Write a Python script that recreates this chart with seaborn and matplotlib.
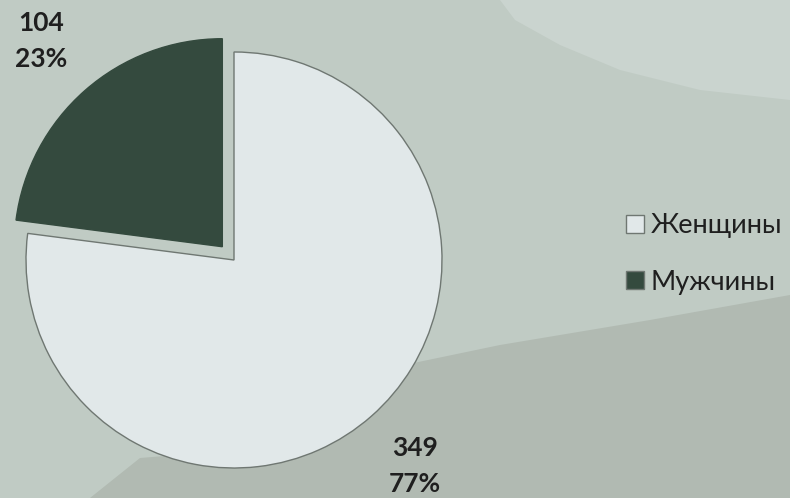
import matplotlib
matplotlib.use("Agg")
import matplotlib.pyplot as plt
import seaborn as sns
import numpy as np
from matplotlib.patches import Polygon

categories = ["Женщины", "Мужчины"]
values = [349, 104]
percents = [77, 23]
colors = ["#e1e8e9", "#344a3e"]

sns.set_theme(style="white")
plt.rcParams['font.family'] = ['Lato', 'DejaVu Sans']

W, H = 790, 498
fig = plt.figure(figsize=(W / 100, H / 100), dpi=100)
fig.patch.set_facecolor("#c0cbc4")

# background texture bands (decorative)
def fpoly(pts, color):
    fig.patches.append(Polygon([(x / W, 1 - y / H) for x, y in pts], closed=True,
                               transform=fig.transFigure, facecolor=color,
                               edgecolor="none", zorder=-10))

fpoly([(500, 0), (790, 0), (790, 100), (700, 90), (620, 70), (560, 45), (515, 20)], "#cad4cf")
fpoly([(90, 498), (140, 458), (300, 445), (380, 370), (500, 345), (650, 320),
       (790, 295), (790, 498)], "#b1bab2")

cx, cy, r = 234, 260, 208
ax = fig.add_axes([(cx - r) / W, (H - cy - r) / H, 2 * r / W, 2 * r / H])
ax.set_facecolor("none")
ax.set_zorder(1)

explode = [0, 0.085]
wedges, texts = ax.pie(values, colors=colors, startangle=90, counterclock=False,
                       explode=explode, radius=1,
                       wedgeprops=dict(linewidth=1.0, edgecolor="#6f7772"))[:2]
wedges[1].set_edgecolor(colors[1])

total = sum(values)
start = 90.0
for i, (v, p) in enumerate(zip(values, percents)):
    ang = start - 360.0 * v / total / 2
    start -= 360.0 * v / total
    d = 1.32 + explode[i]
    ax.text(d * np.cos(np.radians(ang)), d * np.sin(np.radians(ang)),
            f"{v}\n{p}%", ha="center", va="center", fontsize=19,
            fontweight="bold", color="#1f1f1f", linespacing=1.6)

for w in wedges:
    w.set_clip_on(False)
ax.set_xlim(-1, 1)
ax.set_ylim(-1, 1)
ax.axis("off")

leg = fig.legend(wedges, categories, loc="center left",
                 bbox_to_anchor=(602 / W, 1 - 254 / H), frameon=False,
                 fontsize=19.5, handlelength=0.65, handleheight=0.65,
                 handletextpad=0.25, labelspacing=1.15, labelcolor="#1f1f1f")
leg.set_zorder(2)
for h in leg.legend_handles:
    h.set_edgecolor("#6f7772")

fig.savefig("out.png", dpi=100, facecolor=fig.get_facecolor())
